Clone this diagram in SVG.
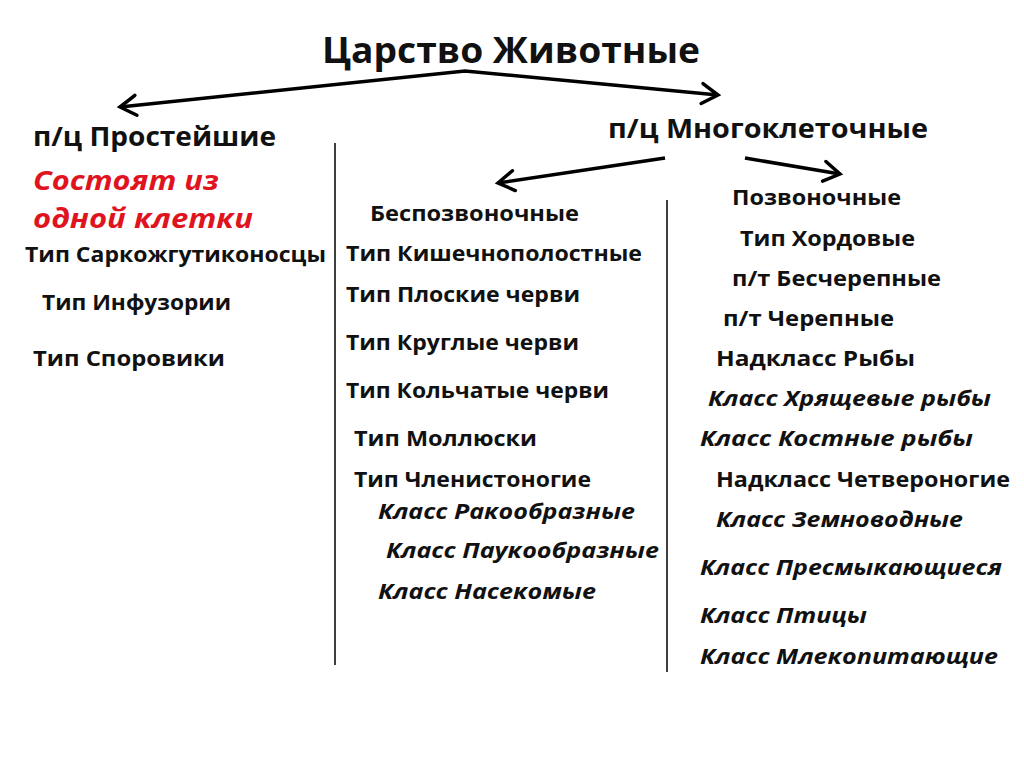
<svg xmlns="http://www.w3.org/2000/svg" width="1024" height="767" viewBox="0 0 1024 767">
<defs>
<marker id="arr" viewBox="0 0 12 12" refX="10" refY="6" markerWidth="12" markerHeight="12" markerUnits="userSpaceOnUse" orient="auto-start-reverse" overflow="visible">
<path d="M-6,-4 L10,6 L-6,16" fill="none" stroke="#000" stroke-width="3.5" stroke-linecap="round" stroke-linejoin="miter"/>
</marker>
<style>
text{font-family:"Open Sans","Liberation Sans",sans-serif;font-weight:bold;fill:#111}
.t{font-size:22px}
.i{font-size:22px;font-style:italic}
.h{font-size:26px}
.r{font-size:26px;font-style:italic;fill:#e0141e}
.title{font-size:36px}
.ln{stroke:#000;fill:none}
</style>
</defs>
<rect width="1024" height="767" fill="#fff"/>
<g id="connectors">
<polyline class="ln" points="120,107 465,71 718,95" stroke-width="3.5" marker-start="url(#arr)" marker-end="url(#arr)"/>
<line class="ln" x1="665" y1="158" x2="498" y2="183" stroke-width="3.5" marker-end="url(#arr)"/>
<line class="ln" x1="745" y1="158" x2="840" y2="174" stroke-width="3.5" marker-end="url(#arr)"/>
<line class="ln" x1="335" y1="143" x2="335" y2="665" stroke-width="1.5"/>
<line class="ln" x1="667" y1="200" x2="667" y2="672" stroke-width="1.5"/>
</g>
<g id="title"><text class="title" x="322" y="63" textLength="378" lengthAdjust="spacingAndGlyphs">Царство Животные</text></g>
<g id="protozoa">
<text class="h" x="33" y="146" textLength="243" lengthAdjust="spacingAndGlyphs">п/ц Простейшие</text>
<text class="r" x="33" y="190" textLength="186" lengthAdjust="spacingAndGlyphs">Состоят  из</text>
<text class="r" x="33" y="228" textLength="220" lengthAdjust="spacingAndGlyphs">одной  клетки</text>
<text class="t" x="25" y="262" textLength="301" lengthAdjust="spacingAndGlyphs">Тип Саркожгутиконосцы</text>
<text class="t" x="42" y="310" textLength="189" lengthAdjust="spacingAndGlyphs">Тип Инфузории</text>
<text class="t" x="33" y="366" textLength="192" lengthAdjust="spacingAndGlyphs">Тип  Споровики</text>
</g>
<g id="multicellular"><text class="h" x="608" y="138" textLength="320" lengthAdjust="spacingAndGlyphs">п/ц Многоклеточные</text></g>
<g id="invertebrates">
<text class="t" x="370" y="221" textLength="209" lengthAdjust="spacingAndGlyphs">Беспозвоночные</text>
<text class="t" x="346" y="261" textLength="296" lengthAdjust="spacingAndGlyphs">Тип Кишечнополостные</text>
<text class="t" x="346" y="302" textLength="234" lengthAdjust="spacingAndGlyphs">Тип Плоские черви</text>
<text class="t" x="346" y="350" textLength="233" lengthAdjust="spacingAndGlyphs">Тип Круглые черви</text>
<text class="t" x="346" y="398" textLength="263" lengthAdjust="spacingAndGlyphs">Тип Кольчатые черви</text>
<text class="t" x="354" y="446" textLength="183" lengthAdjust="spacingAndGlyphs">Тип Моллюски</text>
<text class="t" x="354" y="487" textLength="237" lengthAdjust="spacingAndGlyphs">Тип Членистоногие</text>
<text class="i" x="378" y="519" textLength="257" lengthAdjust="spacingAndGlyphs">Класс Ракообразные</text>
<text class="i" x="386" y="558" textLength="273" lengthAdjust="spacingAndGlyphs">Класс Паукообразные</text>
<text class="i" x="378" y="599" textLength="218" lengthAdjust="spacingAndGlyphs">Класс Насекомые</text>
</g>
<g id="vertebrates">
<text class="t" x="732" y="205" textLength="169" lengthAdjust="spacingAndGlyphs">Позвоночные</text>
<text class="t" x="740" y="246" textLength="175" lengthAdjust="spacingAndGlyphs">Тип Хордовые</text>
<text class="t" x="732" y="286" textLength="209" lengthAdjust="spacingAndGlyphs">п/т Бесчерепные</text>
<text class="t" x="723" y="326" textLength="171" lengthAdjust="spacingAndGlyphs">п/т Черепные</text>
<text class="t" x="716" y="366" textLength="199" lengthAdjust="spacingAndGlyphs">Надкласс  Рыбы</text>
<text class="i" x="708" y="406" textLength="283" lengthAdjust="spacingAndGlyphs">Класс Хрящевые рыбы</text>
<text class="i" x="700" y="446" textLength="273" lengthAdjust="spacingAndGlyphs">Класс Костные  рыбы</text>
<text class="t" x="716" y="487" textLength="294" lengthAdjust="spacingAndGlyphs">Надкласс Четвероногие</text>
<text class="i" x="716" y="527" textLength="247" lengthAdjust="spacingAndGlyphs">Класс Земноводные</text>
<text class="i" x="700" y="575" textLength="302" lengthAdjust="spacingAndGlyphs">Класс Пресмыкающиеся</text>
<text class="i" x="700" y="623" textLength="167" lengthAdjust="spacingAndGlyphs">Класс Птицы</text>
<text class="i" x="700" y="664" textLength="298" lengthAdjust="spacingAndGlyphs">Класс Млекопитающие</text>
</g>
</svg>
